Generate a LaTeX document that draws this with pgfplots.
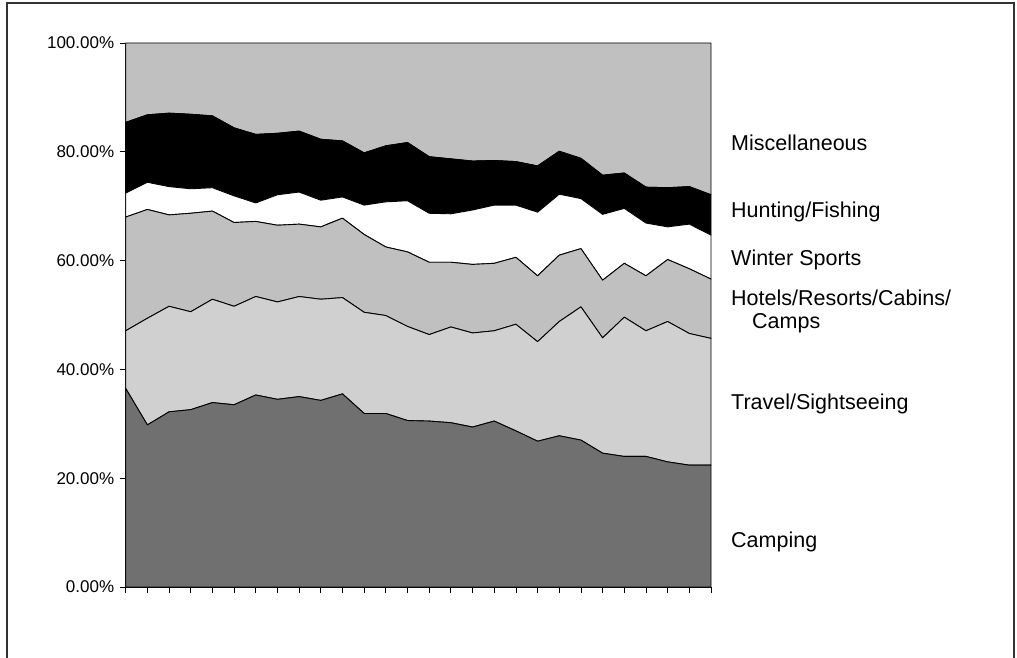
\documentclass[border=0pt]{standalone}
\usepackage{fontspec}
\setmainfont{Liberation Sans}
\usepackage{pgfplots}
\usepackage{pgfplotstable}
\pgfplotsset{compat=1.18}

\definecolor{campgray}{RGB}{112,112,112}
\definecolor{travelgray}{RGB}{208,208,208}
\definecolor{silvergray}{RGB}{192,192,192}

% Share of each activity, per period (percent)
\pgfplotstableread{
i  C     T     H     W     F     M
0  36.5  10.6  20.9  4.4   13.0  14.6
1  29.8  19.6  20.0  5.0   12.4  13.2
2  32.2  19.4  16.8  5.2   13.5  12.9
3  32.6  18.0  18.1  4.5   13.7  13.1
4  33.9  19.0  16.2  4.3   13.2  13.4
5  33.5  18.1  15.4  4.9   12.5  15.6
6  35.3  18.1  13.8  3.4   12.6  16.8
7  34.5  17.9  14.1  5.6   11.3  16.6
8  35.0  18.4  13.3  5.9   11.2  16.2
9  34.3  18.6  13.3  4.9   11.2  17.7
10 35.5  17.7  14.6  3.9   10.3  18.0
11 31.9  18.6  14.3  5.4   9.6   20.2
12 31.9  18.0  12.6  8.3   10.3  18.9
13 30.6  17.3  13.7  9.4   10.7  18.3
14 30.5  15.9  13.3  9.0   10.4  20.9
15 30.2  17.6  11.9  8.9   10.1  21.3
16 29.4  17.3  12.6  10.0  9.0   21.7
17 30.5  16.6  12.4  10.7  8.2   21.6
18 28.7  19.6  12.3  9.6   8.0   21.8
19 26.8  18.3  12.1  11.7  8.5   22.6
20 27.8  21.0  12.2  11.2  7.9   19.9
21 27.0  24.5  10.7  9.2   7.4   21.2
22 24.6  21.2  10.6  12.1  7.2   24.3
23 24.0  25.6  9.9   10.1  6.5   23.9
24 24.0  23.1  10.1  9.7   6.6   26.5
25 23.0  25.8  11.4  6.0   7.2   26.6
26 22.4  24.2  11.9  8.2   6.9   26.4
27 22.4  23.3  10.9  8.1   7.4   27.9
}\shares

\begin{document}
\begin{tikzpicture}[x=1pt,y=1pt]
\useasboundingbox (0,0) rectangle (1017,657);
% outer frame
\draw[line width=1.5pt, black!80] (7,-5) -- (7,654) -- (1014,654) -- (1014,-5);
\begin{axis}[
  at={(125.7pt,70pt)}, anchor=south west,
  scale only axis, width=585.3pt, height=544pt,
  xmin=0, xmax=27, ymin=0, ymax=100,
  stack plots=y,
  axis lines*=left,
  axis line style={black, line width=1pt},
  tick align=outside,
  major tick length=6pt,
  tick style={black, line width=0.8pt},
  xtick={0,...,27}, xticklabels={},
  ytick={0,20,40,60,80,100},
  yticklabels={0.00\%,20.00\%,40.00\%,60.00\%,80.00\%,100.00\%},
  yticklabel style={font=\fontsize{17}{17}\selectfont, xshift=-2pt},
  clip=false,
  every axis plot/.append style={draw=black, line width=0.9pt, line join=round},
]
\addplot[fill=campgray] table[x=i, y=C] {\shares} \closedcycle;
\addplot[fill=travelgray] table[x=i, y=T] {\shares} \closedcycle;
\addplot[fill=silvergray] table[x=i, y=H] {\shares} \closedcycle;
\addplot[fill=white] table[x=i, y=W] {\shares} \closedcycle;
\addplot[fill=black] table[x=i, y=F] {\shares} \closedcycle;
\addplot[fill=silvergray] table[x=i, y=M] {\shares} \closedcycle;
\end{axis}
% series names
\begin{scope}[every node/.style={anchor=west, inner sep=0pt, font=\fontsize{21.5}{25}\selectfont}]
\node at (731, 514) {Miscellaneous};
\node at (731, 445) {Hunting/Fishing};
\node at (731, 397) {Winter Sports};
\node at (731, 359) {Hotels/Resorts/Cabins/};
\node at (752, 334) {Camps};
\node at (731, 253) {Travel/Sightseeing};
\node at (731, 115) {Camping};
\end{scope}
\end{tikzpicture}
\end{document}
